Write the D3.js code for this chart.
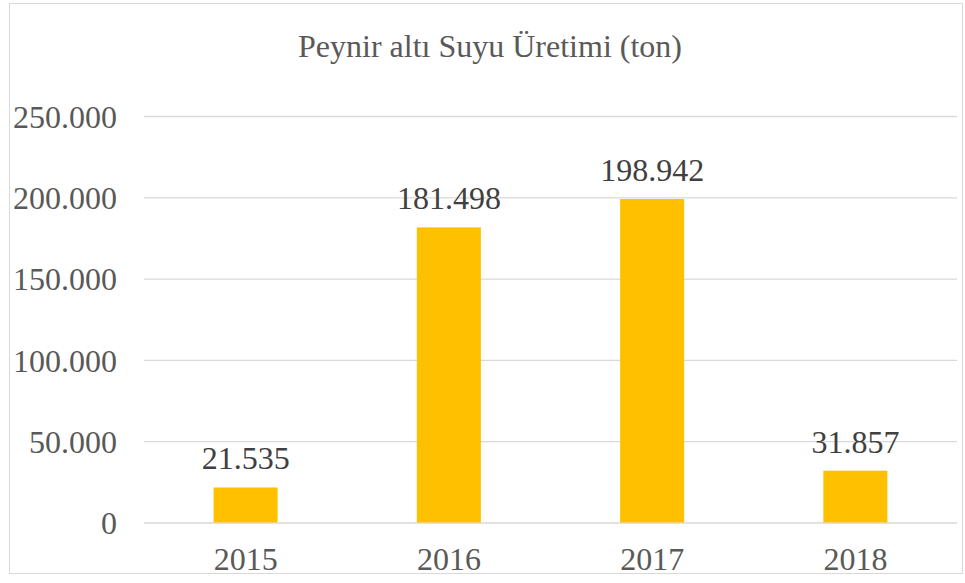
<!DOCTYPE html>
<html>
<head>
<meta charset="utf-8">
<script src="https://cdn.jsdelivr.net/npm/d3@7"></script>
<style>
  body { margin: 0; background: #fff; }
  text { font-family: "Liberation Serif", "Times New Roman", serif; }
</style>
</head>
<body>
<div id="chart"></div>
<script>
const years = ['2015', '2016', '2017', '2018']
const production = [21535, 181498, 198942, 31857]
const yTicks = [0, 50000, 100000, 150000, 200000, 250000]
const title = 'Peynir altı Suyu Üretimi (ton)'

const width = 965
const height = 583
const margin = {top: 116, right: 8, bottom: 60, left: 144}

const fmt = function(v) {
  // turkish thousands separator
  return d3.format(',')(v).replace(/,/g, '.')
}

const svg = d3.select('#chart').append('svg')
  .attr('width', width)
  .attr('height', height)

// outer frame
svg.append('rect')
  .attr('x', 9.5).attr('y', 3.5)
  .attr('width', 953).attr('height', 570)
  .attr('fill', '#fff')
  .attr('stroke', '#d9d9d9')
  .attr('stroke-width', 1)

const x = d3.scaleBand()
  .domain(years)
  .range([margin.left, width - margin.right])
  .paddingInner(0.685)
  .paddingOuter(0.3425)

const y = d3.scaleLinear()
  .domain([0, 250000])
  .range([height - margin.bottom - 0.5, margin.top])

svg.append('text')
  .attr('x', 490)
  .attr('y', 57)
  .attr('text-anchor', 'middle')
  .attr('font-size', 32)
  .attr('fill', '#595959')
  .text(title)

// gridlines + y labels
const yAxis = svg.append('g')
  .attr('transform', 'translate(' + margin.left + ',0)')
  .call(d3.axisLeft(y).tickValues(yTicks).tickFormat(fmt).tickSize(-(width - margin.right - margin.left)).tickPadding(27))
yAxis.select('.domain').remove()
yAxis.selectAll('.tick line').attr('stroke', '#d9d9d9').attr('stroke-width', 1.3)
yAxis.selectAll('.tick text')
  .attr('font-size', 32)
  .attr('fill', '#595959')
  .attr('font-family', '"Liberation Serif", serif')
  .attr('dy', '0.35em')

svg.selectAll('rect.bar')
  .data(production)
  .enter()
  .append('rect')
  .classed('bar', true)
  .attr('x', function(d, i) { return x(years[i]) })
  .attr('y', function(d) { return y(d) })
  .attr('width', x.bandwidth())
  .attr('height', function(d) { return y(0) - y(d) })
  .attr('fill', '#ffc000')

svg.selectAll('text.val')
  .data(production)
  .enter()
  .append('text')
  .classed('val', true)
  .attr('x', function(d, i) { return x(years[i]) + x.bandwidth() / 2 })
  .attr('y', function(d) { return y(d) - 18 })
  .attr('text-anchor', 'middle')
  .attr('font-size', 32)
  .attr('fill', '#404040')
  .text(function(d) { return fmt(d) })

// x labels
const xAxis = svg.append('g')
  .attr('transform', 'translate(0,' + (height - margin.bottom) + ')')
  .call(d3.axisBottom(x).tickSize(0).tickPadding(0))
xAxis.select('.domain').remove()
xAxis.selectAll('.tick text')
  .attr('font-size', 32)
  .attr('fill', '#595959')
  .attr('font-family', '"Liberation Serif", serif')
  .attr('dy', 47)
</script>
</body>
</html>
